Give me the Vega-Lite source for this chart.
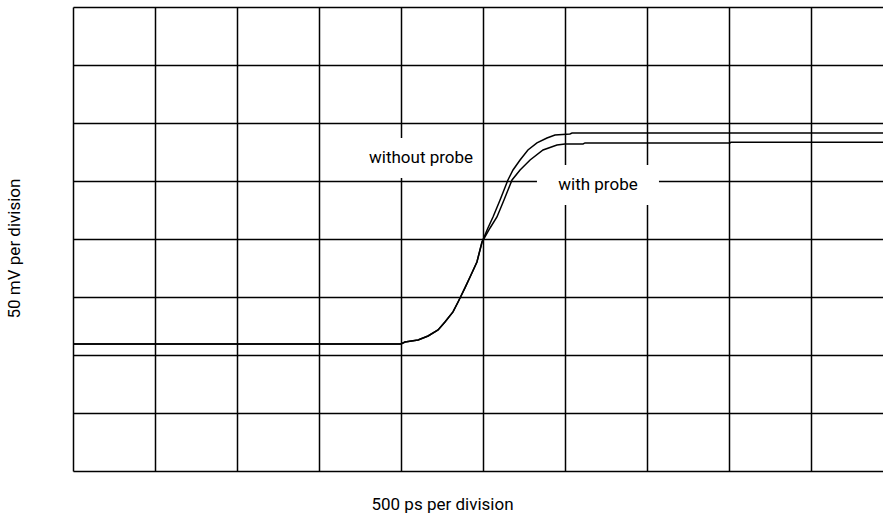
{
  "$schema": "https://vega.github.io/schema/vega-lite/v6.json",
  "width": 810,
  "height": 464,
  "autosize": "none",
  "padding": {"left": 73, "top": 7, "right": 0, "bottom": 44},
  "background": "white",
  "config": {"view": {"stroke": null}},
  "datasets": {
    "curves": [
      {"series": "without probe", "t": 0, "v": 109.5},
      {"series": "without probe", "t": 2000, "v": 109.5},
      {"series": "without probe", "t": 2024, "v": 111.2},
      {"series": "without probe", "t": 2104, "v": 112.9},
      {"series": "without probe", "t": 2165, "v": 116.4},
      {"series": "without probe", "t": 2226, "v": 121.6},
      {"series": "without probe", "t": 2268, "v": 128.4},
      {"series": "without probe", "t": 2317, "v": 137.1},
      {"series": "without probe", "t": 2348, "v": 145.7},
      {"series": "without probe", "t": 2390, "v": 157.8},
      {"series": "without probe", "t": 2421, "v": 167.2},
      {"series": "without probe", "t": 2463, "v": 180.2},
      {"series": "without probe", "t": 2494, "v": 197.4},
      {"series": "without probe", "t": 2530, "v": 209.5},
      {"series": "without probe", "t": 2561, "v": 219.0},
      {"series": "without probe", "t": 2604, "v": 233.6},
      {"series": "without probe", "t": 2652, "v": 250.9},
      {"series": "without probe", "t": 2683, "v": 259.5},
      {"series": "without probe", "t": 2726, "v": 268.1},
      {"series": "without probe", "t": 2774, "v": 276.7},
      {"series": "without probe", "t": 2829, "v": 282.8},
      {"series": "without probe", "t": 2890, "v": 287.1},
      {"series": "without probe", "t": 2939, "v": 289.7},
      {"series": "without probe", "t": 3030, "v": 290.5},
      {"series": "without probe", "t": 3043, "v": 291.4},
      {"series": "without probe", "t": 4939, "v": 291.4},
      {"series": "with probe", "t": 0, "v": 109.5},
      {"series": "with probe", "t": 2000, "v": 109.5},
      {"series": "with probe", "t": 2024, "v": 111.2},
      {"series": "with probe", "t": 2104, "v": 112.9},
      {"series": "with probe", "t": 2165, "v": 116.4},
      {"series": "with probe", "t": 2226, "v": 121.6},
      {"series": "with probe", "t": 2268, "v": 128.4},
      {"series": "with probe", "t": 2317, "v": 137.1},
      {"series": "with probe", "t": 2348, "v": 145.7},
      {"series": "with probe", "t": 2390, "v": 157.8},
      {"series": "with probe", "t": 2421, "v": 167.2},
      {"series": "with probe", "t": 2463, "v": 180.2},
      {"series": "with probe", "t": 2494, "v": 197.4},
      {"series": "with probe", "t": 2543, "v": 209.5},
      {"series": "with probe", "t": 2585, "v": 219.0},
      {"series": "with probe", "t": 2628, "v": 233.6},
      {"series": "with probe", "t": 2677, "v": 250.9},
      {"series": "with probe", "t": 2726, "v": 259.5},
      {"series": "with probe", "t": 2787, "v": 268.1},
      {"series": "with probe", "t": 2866, "v": 276.7},
      {"series": "with probe", "t": 2951, "v": 281.0},
      {"series": "with probe", "t": 3000, "v": 281.9},
      {"series": "with probe", "t": 3110, "v": 281.9},
      {"series": "with probe", "t": 3122, "v": 282.8},
      {"series": "with probe", "t": 4006, "v": 282.8},
      {"series": "with probe", "t": 4012, "v": 283.4},
      {"series": "with probe", "t": 4939, "v": 283.4}
    ],
    "labels": [
      {"label": "without probe", "t": 2122, "v": 269.8},
      {"label": "with probe", "t": 3201, "v": 246.6}
    ]
  },
  "layer": [
    {
      "data": {"name": "curves"},
      "mark": {"type": "line", "strokeWidth": 1.5, "interpolate": "linear"},
      "encoding": {
        "x": {
          "field": "t", "type": "quantitative",
          "scale": {"domain": [0, 4939], "nice": false, "zero": false},
          "axis": {
            "values": [0, 500, 1000, 1500, 2000, 2500, 3000, 3500, 4000, 4500],
            "grid": true, "gridColor": "#000", "gridWidth": 1.5, "gridOpacity": 1,
            "labels": false, "ticks": false, "domain": false,
            "title": "500 ps per division",
            "titleFont": "Roboto", "titleFontSize": 17, "titleFontWeight": "normal", "titleColor": "#000",
            "titleX": 369, "titleY": 38, "titleAlign": "center", "titleBaseline": "alphabetic"
          }
        },
        "y": {
          "field": "v", "type": "quantitative",
          "scale": {"domain": [0, 400], "nice": false},
          "axis": {
            "values": [0, 50, 100, 150, 200, 250, 300, 350, 400],
            "grid": true, "gridColor": "#000", "gridWidth": 1.5, "gridOpacity": 1,
            "labels": false, "ticks": false, "domain": false,
            "title": "50 mV per division",
            "titleFont": "Roboto", "titleFontSize": 17, "titleFontWeight": "normal", "titleColor": "#000",
            "titleX": -59, "titleY": 241, "titleAngle": 270, "titleAlign": "center", "titleBaseline": "middle"
          }
        },
        "color": {
          "field": "series", "type": "nominal",
          "scale": {"domain": ["without probe", "with probe"], "range": ["#000", "#000"]},
          "legend": null
        }
      }
    },
    {
      "data": {"name": "labels"},
      "mark": {"type": "rect", "fill": "white", "width": 122, "height": 40},
      "encoding": {
        "x": {"field": "t", "type": "quantitative"},
        "y": {"field": "v", "type": "quantitative"}
      }
    },
    {
      "data": {"name": "labels"},
      "mark": {"type": "text", "font": "Roboto", "fontSize": 17, "color": "#000", "align": "center", "baseline": "middle"},
      "encoding": {
        "x": {"field": "t", "type": "quantitative"},
        "y": {"field": "v", "type": "quantitative"},
        "text": {"field": "label"}
      }
    }
  ]
}
